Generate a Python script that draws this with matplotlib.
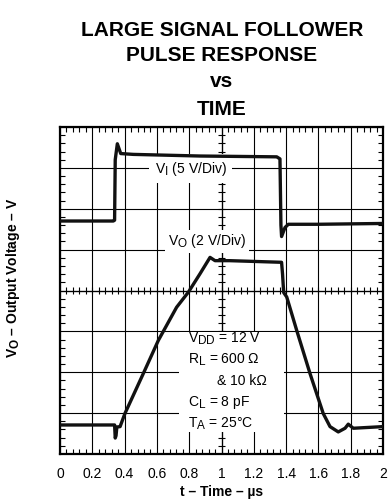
'''
Large signal follower pulse response vs time (scope-style trace).
'''
import numpy as np
import matplotlib
matplotlib.use('Agg')
import matplotlib.pyplot as plt
import matplotlib._mathtext as mathtext_internal
from matplotlib.ticker import MultipleLocator

plt.rcParams['font.family'] = ['Liberation Sans', 'DejaVu Sans']
plt.rcParams['mathtext.fontset'] = 'custom'
plt.rcParams['mathtext.rm'] = 'Liberation Sans'
plt.rcParams['mathtext.it'] = 'Liberation Sans:italic'
plt.rcParams['mathtext.bf'] = 'Liberation Sans:bold'
# larger subscripts, like the datasheet lettering
mathtext_internal.SHRINK_FACTOR = 0.85

# Time ticks (us)
x_ticks = [0, 0.2, 0.4, 0.6, 0.8, 1, 1.2, 1.4, 1.6, 1.8, 2]
x_tick_labels = ['0', '0.2', '0.4', '0.6', '0.8', '1', '1.2', '1.4', '1.6', '1.8', '2']

# Input pulse V_I, in screen divisions (5 V/Div)
vi_t = [0.0, 0.33, 0.338, 0.342, 0.355, 0.376, 0.454, 0.867, 1.342, 1.362,
        1.368, 1.372, 1.393, 1.414, 1.6, 2.0]
vi_div = [5.70, 5.70, 5.72, 7.20, 7.59, 7.35, 7.33, 7.29, 7.27, 7.22,
          5.60, 5.32, 5.54, 5.62, 5.62, 5.64]

# Output V_O, in screen divisions (2 V/Div)
vo_t = [0.0, 0.338, 0.342, 0.347, 0.352, 0.372, 0.402, 0.516, 0.609, 0.722,
        0.795, 0.867, 0.929, 0.96, 1.05, 1.372, 1.378, 1.385, 1.404, 1.466,
        1.548, 1.63, 1.672, 1.723, 1.765, 1.785, 1.816, 2.0]
vo_div = [0.71, 0.71, 0.39, 0.45, 0.66, 0.67, 0.99, 1.97, 2.78, 3.59,
          3.96, 4.41, 4.81, 4.73, 4.73, 4.69, 4.40, 3.95, 3.84, 3.02,
          1.97, 0.99, 0.67, 0.54, 0.63, 0.73, 0.63, 0.67]

fig = plt.figure(figsize=(3.88, 5.0), dpi=100)
ax = fig.add_axes([60 / 388, 46 / 500, 323 / 388, 327 / 500])
ax.set_xlim(0, 2)
ax.set_ylim(0, 8)

# Graticule
ax.set_xticks(x_ticks)
ax.set_xticklabels(x_tick_labels, fontsize=10)
ax.set_yticks(np.arange(0, 9, 1))
ax.set_yticklabels([])
ax.grid(True, color='black', linewidth=0.8)
ax.tick_params(which='major', length=0, pad=9)
ax.xaxis.set_minor_locator(MultipleLocator(0.04))
ax.yaxis.set_minor_locator(MultipleLocator(0.2))
ax.tick_params(which='minor', direction='in', length=3.5, width=0.8,
               top=True, bottom=True, left=True, right=True)
for s in ax.spines.values():
    s.set_linewidth(1.6)

# Center lines with small cross ticks
ax.axvline(1, color='black', linewidth=0.9)
ax.axhline(4, color='black', linewidth=0.9)
cy = np.arange(0.2, 8, 0.2)
ax.hlines(cy, 1 - 0.02, 1 + 0.02, color='black', linewidth=0.8)
cx = np.arange(0.04, 2, 0.04)
ax.vlines(cx, 4 - 0.08, 4 + 0.08, color='black', linewidth=0.8)

# Traces
ax.plot(vi_t, vi_div, color='#111111', linewidth=2.4, solid_joinstyle='round', zorder=5)
ax.plot(vo_t, vo_div, color='#111111', linewidth=2.4, solid_joinstyle='round', zorder=5)

# Trace labels
ax.text(0.81, 6.98, r'V$_{\mathrm{I}}$ (5 V/Div)', fontsize=10, ha='center', va='center',
        bbox=dict(facecolor='white', edgecolor='none', pad=4), zorder=4)
ax.text(0.91, 5.2, r'V$_{\mathrm{O}}$ (2 V/Div)', fontsize=10, ha='center', va='center',
        bbox=dict(facecolor='white', edgecolor='none', pad=2), zorder=4)

# Conditions block
ax.add_patch(plt.Rectangle((0.735, 0.54), 0.655, 2.44, facecolor='white',
                           edgecolor='none', zorder=3))
cond = [r'V$_{\mathrm{DD}}$ = 12 V', r'R$_{\mathrm{L}}$ = 600 Ω', '& 10 kΩ',
        r'C$_{\mathrm{L}}$ = 8 pF', r'T$_{\mathrm{A}}$ = 25°C']
cond_x = [0.79, 0.79, 0.975, 0.79, 0.79]
for i, line in enumerate(cond):
    ax.text(cond_x[i], 2.83 - i * 0.52, line, fontsize=10, ha='left', va='center', zorder=4)

# Titles and axis labels
title_lines = ['LARGE SIGNAL FOLLOWER', 'PULSE RESPONSE', 'vs', 'TIME']
title_base = [36, 61, 87, 115]
for line, yb in zip(title_lines, title_base):
    fig.text(222 / 388, 1 - yb / 500, line, fontsize=15, fontweight='bold',
             ha='center', va='baseline')

fig.text(13 / 388, 1 - 278 / 500, r'$\mathbf{V_O}$ – Output Voltage – V', fontsize=10,
         fontweight='bold', rotation=90, ha='center', va='center')
fig.text(222 / 388, 1 / 500, 't – Time – µs', fontsize=10, fontweight='bold',
         ha='center', va='bottom')

fig.savefig('out.png', dpi=100)
